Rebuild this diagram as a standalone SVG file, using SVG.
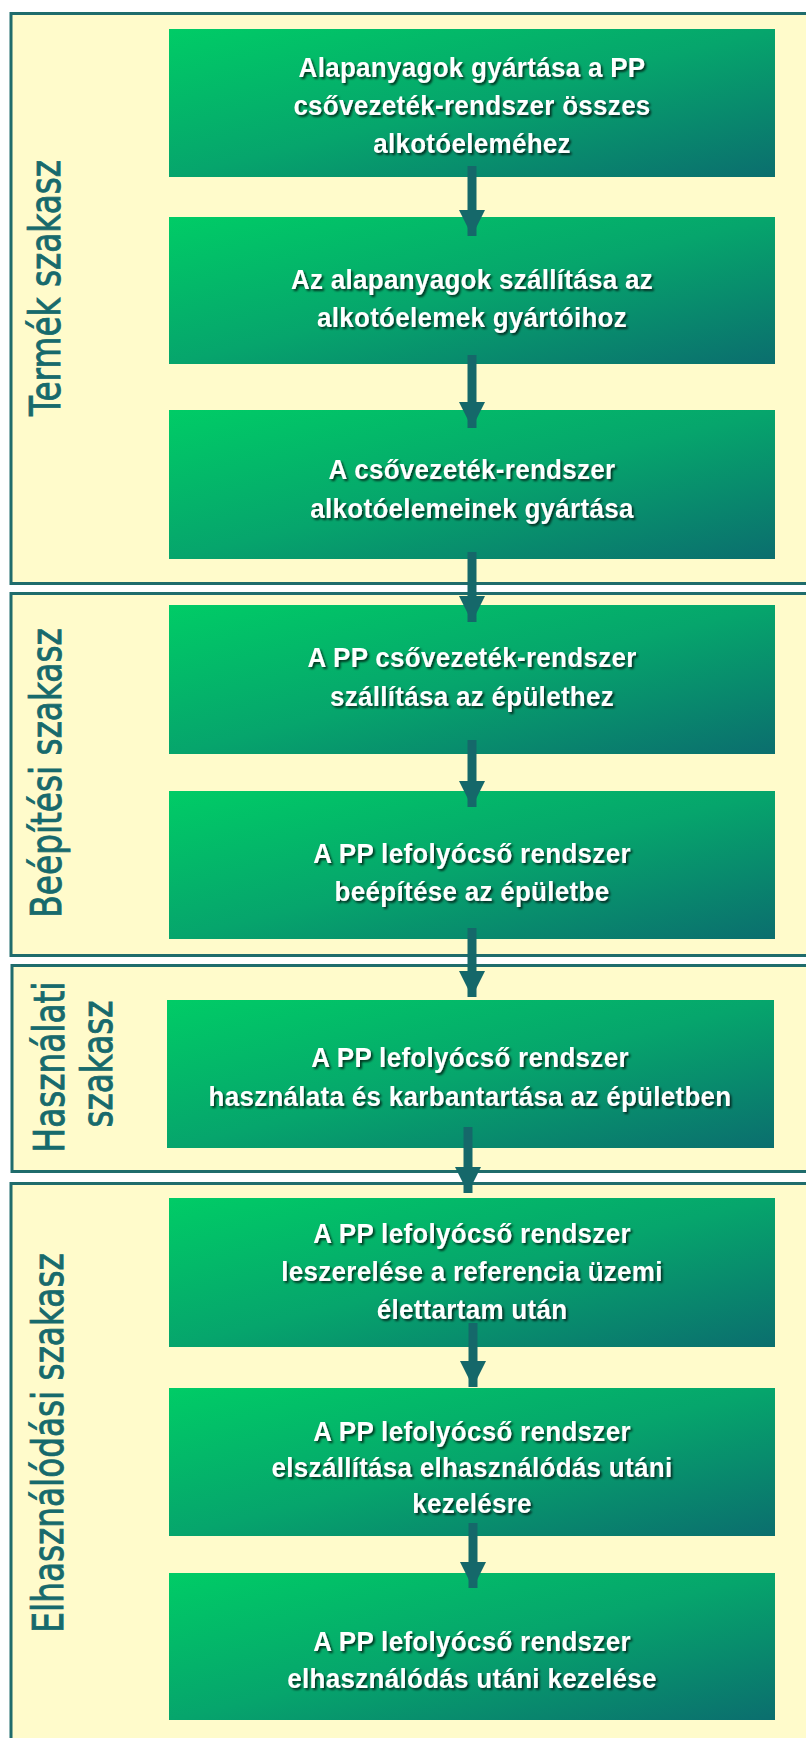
<svg xmlns="http://www.w3.org/2000/svg" width="806" height="1738" viewBox="0 0 806 1738">
<defs>
<linearGradient id="boxGrad" x1="0" y1="0" x2="1" y2="1">
<stop offset="0" stop-color="#00cc66"/>
<stop offset="0.5" stop-color="#06a56c"/>
<stop offset="1" stop-color="#0b6e6e"/>
</linearGradient>
<filter id="shadow" x="-10%" y="-30%" width="120%" height="160%">
<feDropShadow dx="2" dy="2" stdDeviation="1.3" flood-color="#000" flood-opacity="0.7"/>
</filter>
<marker id="head" markerUnits="userSpaceOnUse" markerWidth="26" markerHeight="26" viewBox="0 0 26 26" refX="26" refY="13" orient="auto">
<path d="M0,0 L26,13 L0,26 z" fill="#15686a"/>
</marker>
</defs>
<style>
.sec{fill:#fffbcb;stroke:#1f6c6c;stroke-width:3}
.box{fill:url(#boxGrad)}
.bt{font-family:"Liberation Sans",Arial,sans-serif;font-weight:bold;font-size:28px;fill:#fff;text-anchor:middle;letter-spacing:0.3px;filter:url(#shadow)}
.lbl{font-family:"DejaVu Sans",Verdana,sans-serif;font-size:42px;fill:#176a6c;stroke:#176a6c;stroke-width:0.9px;text-anchor:middle}
.arr{stroke:#15686a;stroke-width:9;fill:none;marker-end:url(#head)}
</style>
<rect x="0" y="0" width="806" height="1738" fill="#ffffff"/>

<g id="sec-termek">
<rect class="sec" x="11" y="13.5" width="820" height="570"/>
<text class="lbl" transform="translate(60,288) rotate(-90) scale(0.78,1)">Termék szakasz</text>
</g>
<g id="sec-beepitesi">
<rect class="sec" x="11" y="593.5" width="820" height="362"/>
<text class="lbl" transform="translate(61,773) rotate(-90) scale(0.78,1)">Beépítési szakasz</text>
</g>
<g id="sec-hasznalati">
<rect class="sec" x="12" y="965.5" width="820" height="206"/>
<text class="lbl" transform="translate(64,1067) rotate(-90) scale(0.78,1)">Használati</text>
<text class="lbl" transform="translate(112,1064) rotate(-90) scale(0.78,1)">szakasz</text>
</g>
<g id="sec-elhasznalodasi">
<rect class="sec" x="11" y="1183.5" width="820" height="600"/>
<text class="lbl" transform="translate(63,1443) rotate(-90) scale(0.78,1)">Elhasználódási szakasz</text>
</g>

<g id="node-1">
<rect class="box" x="169" y="29" width="606" height="148"/>
<text class="bt" transform="translate(472,77) scale(0.93,1)">Alapanyagok gyártása a PP</text>
<text class="bt" transform="translate(472,115) scale(0.93,1)">csővezeték-rendszer összes</text>
<text class="bt" transform="translate(472,153) scale(0.93,1)">alkotóeleméhez</text>
</g>
<g id="node-2">
<rect class="box" x="169" y="217" width="606" height="147"/>
<text class="bt" transform="translate(472,289) scale(0.93,1)">Az alapanyagok szállítása az</text>
<text class="bt" transform="translate(472,327) scale(0.93,1)">alkotóelemek gyártóihoz</text>
</g>
<g id="node-3">
<rect class="box" x="169" y="410" width="606" height="149"/>
<text class="bt" transform="translate(472,479) scale(0.93,1)">A csővezeték-rendszer</text>
<text class="bt" transform="translate(472,518) scale(0.93,1)">alkotóelemeinek gyártása</text>
</g>
<g id="node-4">
<rect class="box" x="169" y="605" width="606" height="149"/>
<text class="bt" transform="translate(472,667) scale(0.93,1)">A PP csővezeték-rendszer</text>
<text class="bt" transform="translate(472,706) scale(0.93,1)">szállítása az épülethez</text>
</g>
<g id="node-5">
<rect class="box" x="169" y="791" width="606" height="148"/>
<text class="bt" transform="translate(472,863) scale(0.93,1)">A PP lefolyócső rendszer</text>
<text class="bt" transform="translate(472,901) scale(0.93,1)">beépítése az épületbe</text>
</g>
<g id="node-6">
<rect class="box" x="167" y="1000" width="607" height="148"/>
<text class="bt" transform="translate(470,1067) scale(0.93,1)">A PP lefolyócső rendszer</text>
<text class="bt" transform="translate(470,1106) scale(0.93,1)">használata és karbantartása az épületben</text>
</g>
<g id="node-7">
<rect class="box" x="169" y="1198" width="606" height="149"/>
<text class="bt" transform="translate(472,1243) scale(0.93,1)">A PP lefolyócső rendszer</text>
<text class="bt" transform="translate(472,1281) scale(0.93,1)">leszerelése a referencia üzemi</text>
<text class="bt" transform="translate(472,1319) scale(0.93,1)">élettartam után</text>
</g>
<g id="node-8">
<rect class="box" x="169" y="1388" width="606" height="148"/>
<text class="bt" transform="translate(472,1441) scale(0.93,1)">A PP lefolyócső rendszer</text>
<text class="bt" transform="translate(472,1477) scale(0.93,1)">elszállítása elhasználódás utáni</text>
<text class="bt" transform="translate(472,1513) scale(0.93,1)">kezelésre</text>
</g>
<g id="node-9">
<rect class="box" x="169" y="1573" width="606" height="147"/>
<text class="bt" transform="translate(472,1651) scale(0.93,1)">A PP lefolyócső rendszer</text>
<text class="bt" transform="translate(472,1688) scale(0.93,1)">elhasználódás utáni kezelése</text>
</g>

<g id="connectors">
<line class="arr" x1="472" y1="166" x2="472" y2="236"/>
<line class="arr" x1="472" y1="355" x2="472" y2="428"/>
<line class="arr" x1="472" y1="552" x2="472" y2="622"/>
<line class="arr" x1="472" y1="740" x2="472" y2="807"/>
<line class="arr" x1="472" y1="928" x2="472" y2="997"/>
<line class="arr" x1="468" y1="1127" x2="468" y2="1193"/>
<line class="arr" x1="473" y1="1323" x2="473" y2="1387"/>
<line class="arr" x1="473" y1="1523" x2="473" y2="1588"/>
</g>
</svg>
